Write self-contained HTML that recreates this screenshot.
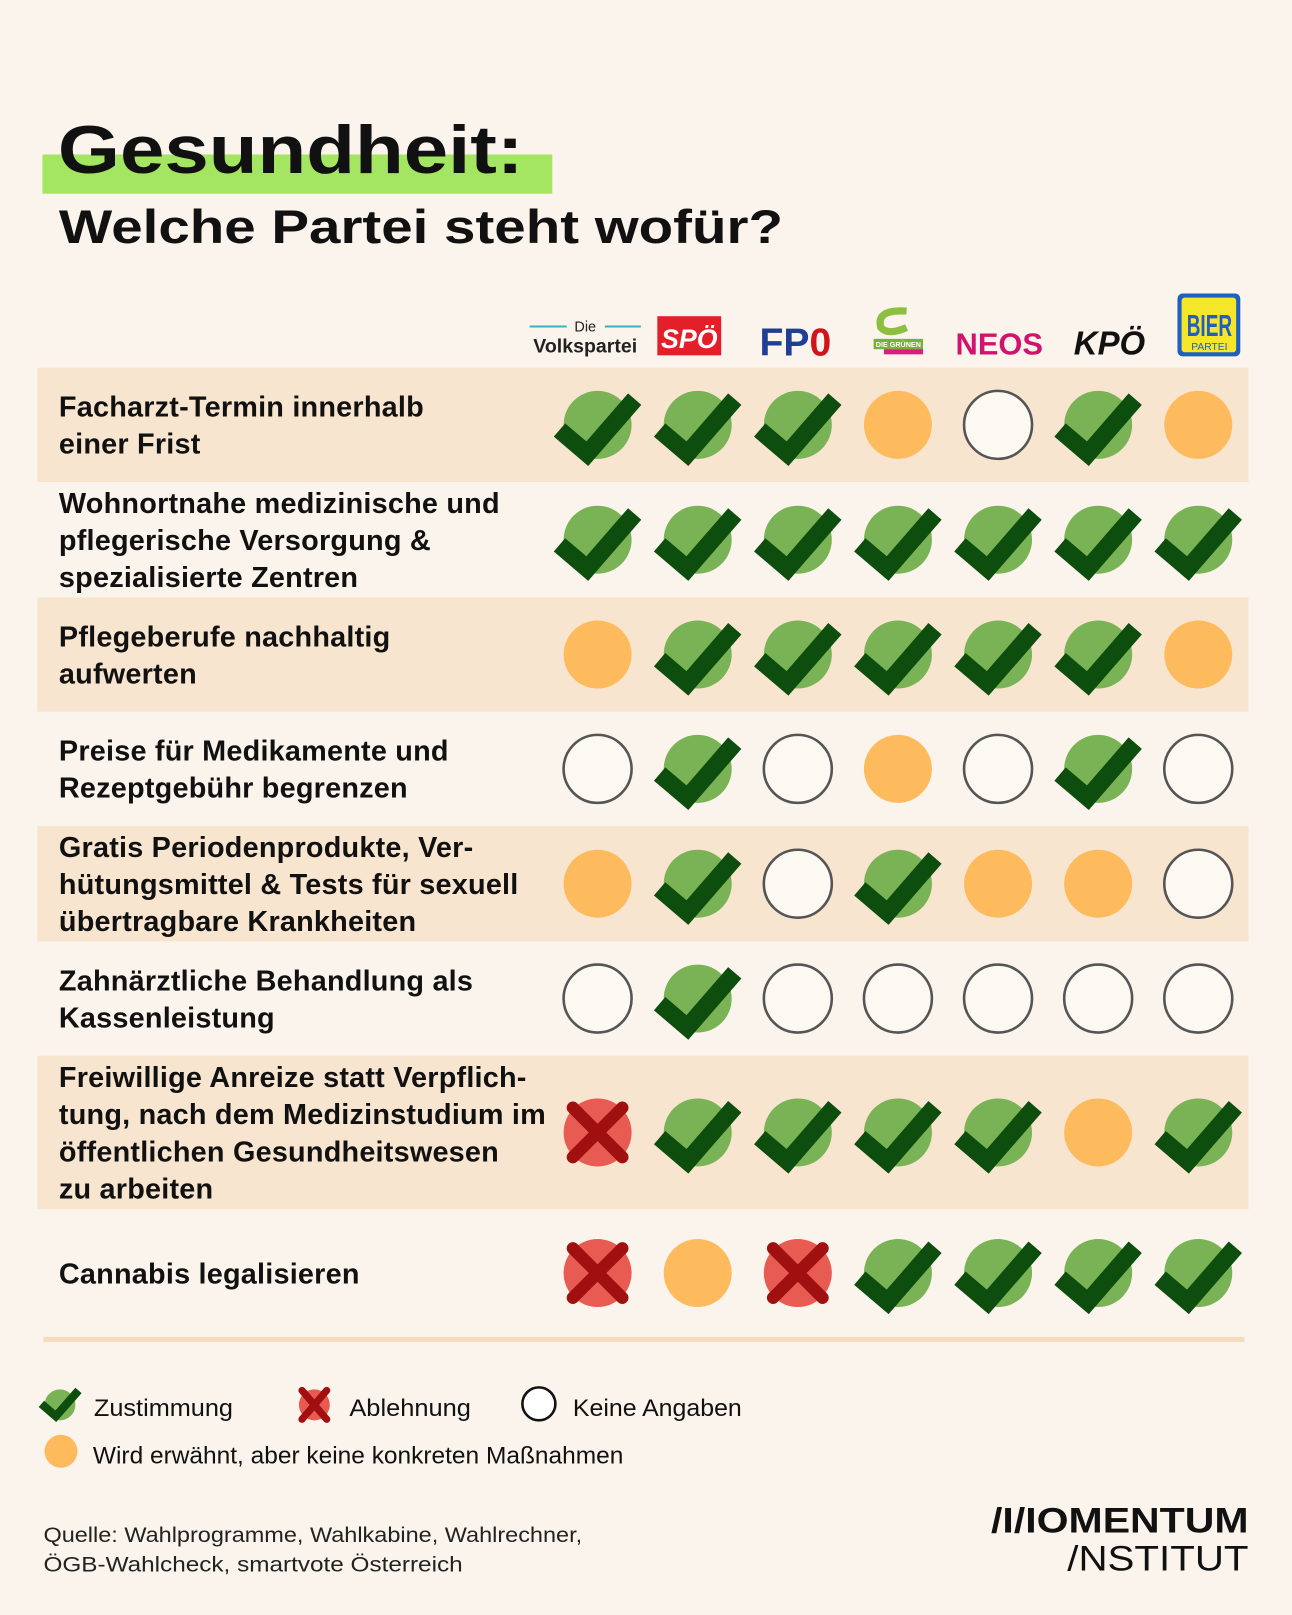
<!DOCTYPE html>
<html><head><meta charset="utf-8"><style>
html,body{margin:0;padding:0;background:#faf4ec}
svg{display:block}
text{font-family:"Liberation Sans","DejaVu Sans",sans-serif}
</style></head><body>
<svg id="chart" width="1292" height="1615" viewBox="0 0 1254 1568" xmlns="http://www.w3.org/2000/svg">
<rect width="1254" height="1568" fill="#faf4ec"/>
<rect x="41" y="150" width="495" height="38" fill="#a4e562"/>
<text x="56" y="168" font-size="66" font-weight="bold" fill="#111" textLength="452" lengthAdjust="spacingAndGlyphs">Gesundheit:</text>
<text x="57" y="236" font-size="46" font-weight="bold" fill="#111" textLength="703" lengthAdjust="spacingAndGlyphs">Welche Partei steht wofür?</text>

<g>
<g>
<line x1="514" y1="317" x2="550" y2="317" stroke="#3ab0c0" stroke-width="2"/>
<line x1="587" y1="317" x2="622" y2="317" stroke="#3ab0c0" stroke-width="2"/>
<text x="568" y="322" font-size="14" text-anchor="middle" font-family="Liberation Serif" fill="#222">Die</text>
<text x="568" y="342" font-size="19" font-weight="bold" text-anchor="middle" font-family="Liberation Serif" fill="#222">Volkspartei</text>
</g>
<g>
<rect x="638" y="307" width="62" height="38" fill="#e3202a"/>
<text x="669" y="338" font-size="26" font-weight="bold" font-style="italic" text-anchor="middle" fill="#fff">SPÖ</text>
</g>
<text x="772" y="345" font-size="38" font-weight="bold" text-anchor="middle" font-family="Liberation Serif" fill="#1f3f95">FP<tspan fill="#d0141c">0</tspan></text>
<g>
<path d="M880 302 Q850 300 855 318 Q862 326 880 318" fill="none" stroke="#8cbf3f" stroke-width="7"/>
<rect x="848" y="329" width="48" height="10" fill="#7ab03a"/>
<rect x="858" y="339" width="38" height="5" fill="#e0197d"/>
<text x="872" y="337" font-size="7" font-weight="bold" text-anchor="middle" fill="#fff">DIE GRÜNEN</text>
</g>
<text x="970" y="344" font-size="30" font-weight="bold" text-anchor="middle" fill="#d0146e">NEOS</text>
<text x="1077" y="344" font-size="32" font-weight="bold" font-style="italic" text-anchor="middle" fill="#111">KPÖ</text>
<g>
<rect x="1143" y="285" width="61" height="61" rx="5" fill="#1f5fbf"/>
<rect x="1147" y="289" width="53" height="53" rx="3" fill="#f5e62a"/>
<text x="1174" y="326" font-size="30" font-weight="bold" text-anchor="middle" fill="#1f5fbf" textLength="44" lengthAdjust="spacingAndGlyphs">BIER</text>
<text x="1174" y="340" font-size="10" text-anchor="middle" fill="#1f5fbf">PARTEI</text>
</g>
</g>

<g id="rows"></g>
<g id="marks"></g>

<rect x="42" y="1298" width="1166" height="5" fill="#f3dcc0"/>

<g>
<g>
<circle cx="58" cy="1364" r="15" fill="#7ab356"/>
<polyline points="40,1363 54,1375 76,1350" fill="none" stroke="#0d4d0d" stroke-width="8"/>
<text x="91" y="1375" font-size="23" fill="#111" textLength="135" lengthAdjust="spacingAndGlyphs">Zustimmung</text>
</g>
<g>
<circle cx="305" cy="1364" r="15" fill="#e85b52"/>
<path d="M293 1350 L317 1378 M317 1350 L293 1378" stroke="#a01010" stroke-width="7" stroke-linecap="round"/>
<text x="339" y="1375" font-size="23" fill="#111" textLength="118" lengthAdjust="spacingAndGlyphs">Ablehnung</text>
</g>
<g>
<circle cx="523" cy="1363" r="16" fill="#fff" stroke="#111" stroke-width="2.5"/>
<text x="556" y="1375" font-size="23" fill="#111" textLength="164" lengthAdjust="spacingAndGlyphs">Keine Angaben</text>
</g>
<g>
<circle cx="59" cy="1409" r="16" fill="#fdbb5e"/>
<text x="90" y="1421" font-size="23" fill="#111" textLength="515" lengthAdjust="spacingAndGlyphs">Wird erwähnt, aber keine konkreten Maßnahmen</text>
</g>
</g>

<text x="42" y="1497" font-size="21" fill="#222" textLength="523" lengthAdjust="spacingAndGlyphs">Quelle: Wahlprogramme, Wahlkabine, Wahlrechner,</text>
<text x="42" y="1526" font-size="21" fill="#222" textLength="407" lengthAdjust="spacingAndGlyphs">ÖGB-Wahlcheck, smartvote Österreich</text>
<text x="1212" y="1488" font-size="34" font-weight="bold" text-anchor="end" fill="#111" textLength="250" lengthAdjust="spacingAndGlyphs">/I/IOMENTUM</text>
<text x="1212" y="1525" font-size="34" text-anchor="end" fill="#111" textLength="176" lengthAdjust="spacingAndGlyphs">/NSTITUT</text>
</svg>
<script>
const parties = ["ÖVP","SPÖ","FPÖ","Grüne","NEOS","KPÖ","Bier"];
const topics = [
 ["Facharzt-Termin innerhalb","einer Frist"],
 ["Wohnortnahe medizinische und","pflegerische Versorgung &","spezialisierte Zentren"],
 ["Pflegeberufe nachhaltig","aufwerten"],
 ["Preise für Medikamente und","Rezeptgebühr begrenzen"],
 ["Gratis Periodenprodukte, Ver-","hütungsmittel & Tests für sexuell","übertragbare Krankheiten"],
 ["Zahnärztliche Behandlung als","Kassenleistung"],
 ["Freiwillige Anreize statt Verpflich-","tung, nach dem Medizinstudium im","öffentlichen Gesundheitswesen","zu arbeiten"],
 ["Cannabis legalisieren"]
];
// c = Zustimmung, x = Ablehnung, e = keine Angaben, o = erwähnt
const positions = [
 ["c","c","c","o","e","c","o"],
 ["c","c","c","c","c","c","c"],
 ["o","c","c","c","c","c","o"],
 ["e","c","e","o","e","c","e"],
 ["o","c","e","c","o","o","e"],
 ["e","c","e","e","e","e","e"],
 ["x","c","c","c","c","o","c"],
 ["x","o","x","c","c","c","c"]
];
const rowTops = [357,468,580,691,802,914,1025,1174,1298];
const colX = i => 580 + i*97.2;
const NS = "http://www.w3.org/2000/svg";
const rowsG = document.getElementById("rows");
const marksG = document.getElementById("marks");
function mk(tag, attrs, parent){const e=document.createElementNS(NS,tag);for(const k in attrs)e.setAttribute(k,attrs[k]);parent.appendChild(e);return e;}
topics.forEach((lines,r)=>{
  const top=rowTops[r], bot=rowTops[r+1], cy=(top+bot)/2;
  if(r%2===0){
    const band=mk("rect",{x:36,y:top,width:1176,height:bot-top,fill:"#f8e5cf"},rowsG);
    
    
  }
  const t=mk("text",{x:57,"font-size":28,"font-weight":"bold","letter-spacing":0.2,fill:"#111"},rowsG);
  
  
  const start=cy-(lines.length-1)*18+10;
  lines.forEach((ln,i)=>{const ts=mk("tspan",{x:57,y:start+i*36},t);ts.textContent=ln;});
  positions[r].forEach((s,c)=>{
    const x=colX(c);
    const g=mk("g",{},marksG);
    
    
    if(s==="c"){
      mk("circle",{cx:x,cy:cy,r:33,fill:"#7ab356"},g);
      mk("polyline",{points:`${x-37},${cy+5} ${x-10},${cy+28} ${x+36},${cy-25}`,fill:"none",stroke:"#0d4d0d","stroke-width":17},g);
    } else if(s==="o"){
      mk("circle",{cx:x,cy:cy,r:33,fill:"#fdbb5e"},g);
    } else if(s==="e"){
      mk("circle",{cx:x,cy:cy,r:33,fill:"#fcf8f2",stroke:"#555","stroke-width":2.5},g);
    } else {
      mk("circle",{cx:x,cy:cy,r:33,fill:"#e85b52"},g);
      mk("path",{d:`M${x-24} ${cy-24} L${x+24} ${cy+24} M${x+24} ${cy-24} L${x-24} ${cy+24}`,stroke:"#a01010","stroke-width":12,"stroke-linecap":"round"},g);
    }
  });
});
</script>
</body></html>
